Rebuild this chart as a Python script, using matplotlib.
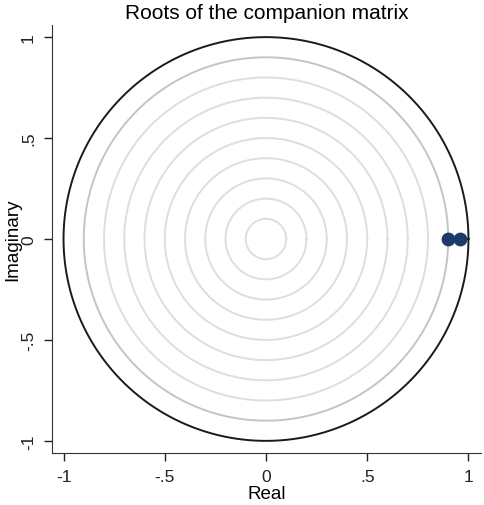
import numpy as np
import matplotlib
matplotlib.use("Agg")
import matplotlib.pyplot as plt

plt.rcParams['font.family'] = ['Liberation Sans', 'DejaVu Sans']

# eigenvalues (real, imaginary)
root_real = [0.897, 0.960]
root_imag = [0.0, 0.0]
grid_radii = [0.1, 0.2, 0.3, 0.4, 0.5, 0.6, 0.7, 0.8, 0.9]
tick_vals = [-1, -0.5, 0, 0.5, 1]
tick_labels = ['-1', '-.5', '0', '.5', '1']

fig = plt.figure(figsize=(4.84, 5.06), dpi=100)
ax = fig.add_axes([0.1074, 0.1028, 0.8864, 0.8458])

theta = np.linspace(0, 2 * np.pi, 400)
for r in grid_radii:
    col = '#c4c4c4' if r == 0.9 else '#dedede'
    ax.plot(r * np.cos(theta), r * np.sin(theta), color=col, lw=1.4, zorder=1)
ax.plot(np.cos(theta), np.sin(theta), color='#1a1a1a', lw=1.4, zorder=2)

ax.scatter(root_real, root_imag, s=80, color='#1a3a6a', zorder=3)

ax.set_xlim(-1.057, 1.062)
ax.set_ylim(-1.06, 1.06)
ax.set_xticks(tick_vals)
ax.set_xticklabels(tick_labels)
ax.set_yticks(tick_vals)
ax.set_yticklabels(tick_labels, rotation=90, va='center')
ax.tick_params(direction='out', length=5.5, width=1, pad=6, labelsize=12.5,
               colors='#222222')

for s in ['top', 'right']:
    ax.spines[s].set_visible(False)
for s in ['left', 'bottom']:
    ax.spines[s].set_color('#333333')

ax.set_xlabel('Real', fontsize=13.5, labelpad=1)
ax.set_ylabel('Imaginary', fontsize=13.5, labelpad=0)
ax.set_title('Roots of the companion matrix', fontsize=15, pad=5)

fig.savefig('out.png', dpi=100)
